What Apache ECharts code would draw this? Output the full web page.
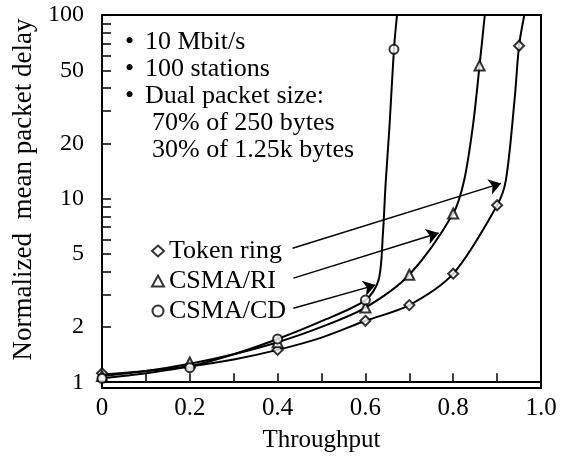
<!DOCTYPE html>
<html><head><meta charset="utf-8">
<script src="https://cdn.jsdelivr.net/npm/echarts@6/dist/echarts.min.js"></script>
<style>html,body{margin:0;padding:0;background:#fff}#c{width:561px;height:463px}</style>
</head><body><div id="c"></div>
<script>
// ---- data ----
const seriesNames = ['Token ring', 'CSMA/RI', 'CSMA/CD'];
// curve points
const tokenCurveX = [0, 0.1, 0.2, 0.3, 0.4, 0.5, 0.6, 0.7, 0.8, 0.9, 0.92, 0.94, 0.95, 0.962];
const tokenCurveY = [1.1, 1.15, 1.22, 1.33, 1.5, 1.75, 2.16, 2.63, 3.9, 9.2, 12.6, 35, 68, 100];
const riCurveX = [0, 0.1, 0.2, 0.3, 0.4, 0.5, 0.6, 0.7, 0.8, 0.825, 0.845, 0.86, 0.872];
const riCurveY = [1.08, 1.15, 1.26, 1.42, 1.65, 2.0, 2.55, 3.85, 8.3, 12.6, 25, 53, 100];
const cdCurveX = [0, 0.1, 0.2, 0.3, 0.4, 0.5, 0.6, 0.63, 0.64, 0.646, 0.655, 0.665, 0.672];
const cdCurveY = [1.05, 1.12, 1.22, 1.42, 1.72, 2.15, 2.8, 3.6, 6.5, 12, 25, 65, 100];
// marker points
const tokenMarkX = [0, 0.2, 0.4, 0.6, 0.7, 0.8, 0.9, 0.95];
const tokenMarkY = [1.12, 1.22, 1.5, 2.16, 2.63, 3.9, 9.2, 68];
const riMarkX = [0, 0.2, 0.4, 0.6, 0.7, 0.8, 0.86];
const riMarkY = [1.08, 1.28, 1.65, 2.55, 3.85, 8.3, 53];
const cdMarkX = [0, 0.2, 0.4, 0.6, 0.665];
const cdMarkY = [1.05, 1.2, 1.72, 2.8, 65];
// arrows: [fromX, fromY, toX, toY]
const arrowToken = [0.434, 5.37, 0.909, 12.1];
const arrowRI = [0.436, 3.69, 0.767, 6.49];
const arrowCD = [0.436, 2.53, 0.623, 3.38];
// axis ticks / labels
const xTickLabels = [0, 0.2, 0.4, 0.6, 0.8, 1.0];
const yLabelValues = [1, 2, 5, 10, 20, 50, 100];
const yTickValues = [1,2,3,4,5,6,7,8,9,10,20,30,40,50,60,70,80,90,100];
const noteLines = ['10 Mbit/s', '100 stations', 'Dual packet size:', '70% of 250 bytes', '30% of 1.25k bytes'];
const noteBullet = [true, true, true, false, false];

const L = Math.log10;
const pts = (xs, ys) => xs.map((x, i) => [x, L(ys[i])]);
const FONT = 'Liberation Serif';
const symbols = ['emptyDiamond', 'emptyTriangle', 'emptyCircle'];
const sizes = [10, 10, 9];
const curves = [pts(tokenCurveX, tokenCurveY), pts(riCurveX, riCurveY), pts(cdCurveX, cdCurveY)];
const marks = [pts(tokenMarkX, tokenMarkY), pts(riMarkX, riMarkY), pts(cdMarkX, cdMarkY)];
const arrows = [arrowToken, arrowRI, arrowCD];

const series = [];
seriesNames.forEach((n, i) => {
  series.push({
    name: n, type: 'scatter', data: marks[i], symbol: symbols[i], symbolSize: sizes[i],
    itemStyle: { color: '#000', borderColor: '#000', borderWidth: 1.5 }, z: 4, clip: true
  });
});
seriesNames.forEach((n, i) => {
  series.push({
    name: n, type: 'line', data: curves[i], showSymbol: false, symbol: 'none',
    smooth: 0.3, clip: true,
    itemStyle: { color: '#000' },
    lineStyle: { color: '#000', width: 2 }, z: 3,
    markLine: {
      silent: true, symbol: ['none', 'arrow'], symbolSize: 12, animation: false,
      itemStyle: { color: '#000' },
      lineStyle: { color: '#000', width: 1.5, type: 'solid' }, label: { show: false },
      data: [[{ coord: [arrows[i][0], L(arrows[i][1])] }, { coord: [arrows[i][2], L(arrows[i][3])] }]]
    }
  });
});

const graphic = [];
noteLines.forEach((t, i) => {
  if (noteBullet[i]) {
    graphic.push({ type: 'text', left: 125, top: 29 + i * 27, style: { text: '•', font: '26px "Liberation Serif"', fill: '#000' } });
  }
  graphic.push({
    type: 'text', left: noteBullet[i] ? 145 : 152, top: 29 + i * 27,
    style: { text: t, font: '26px "Liberation Serif"', fill: '#000' }
  });
});

const chart = echarts.init(document.getElementById('c'), null, { renderer: 'canvas' });
chart.setOption({
  animation: false,
  backgroundColor: '#fff',
  textStyle: { fontFamily: FONT, color: '#000' },
  grid: { left: 102, right: 20, top: 15, bottom: 75, show: true, borderColor: '#000', borderWidth: 2, backgroundColor: 'transparent' },
  xAxis: {
    type: 'value', min: 0, max: 1, interval: 0.2,
    name: 'Throughput', nameLocation: 'middle', nameGap: 40,
    nameTextStyle: { fontFamily: FONT, fontSize: 25, color: '#000' },
    axisLine: { lineStyle: { color: '#000', width: 2 } },
    axisTick: { inside: true, length: 9, lineStyle: { color: '#000', width: 1.5 } },
    minorTick: { show: true, splitNumber: 2, length: 9, lineStyle: { color: '#000', width: 1.5 } },
    splitLine: { show: false },
    axisLabel: {
      fontFamily: FONT, fontSize: 25, color: '#000', margin: 8,
      customValues: xTickLabels,
      formatter: v => (v === 0 ? '0' : v.toFixed(1))
    }
  },
  yAxis: {
    type: 'value', min: L(0.93), max: 2,
    name: 'Normalized  mean packet delay', nameLocation: 'middle', nameGap: 64, nameRotate: 90,
    nameTextStyle: { fontFamily: FONT, fontSize: 27, color: '#000', padding: [0, 0, 0, 24] },
    axisLine: { lineStyle: { color: '#000', width: 2 } },
    axisTick: { inside: true, length: 9, customValues: yTickValues.map(L), lineStyle: { color: '#000', width: 1.5 } },
    splitLine: { show: false },
    axisLabel: {
      fontFamily: FONT, fontSize: 24, color: '#000', margin: 18,
      customValues: yLabelValues.map(L),
      formatter: v => String(Math.round(Math.pow(10, v)))
    }
  },
  legend: {
    orient: 'vertical', left: 146, top: 233, itemGap: 4, itemWidth: 12, itemHeight: 11,
    selectedMode: false,
    textStyle: { fontFamily: FONT, fontSize: 26, color: '#000', padding: [0, 0, 0, 0] },
    data: seriesNames.map((n, i) => ({ name: n, icon: symbols[i], itemStyle: { color: '#000', borderColor: '#000', borderWidth: 1.5 } }))
  },
  graphic,
  series
});
</script></body></html>
